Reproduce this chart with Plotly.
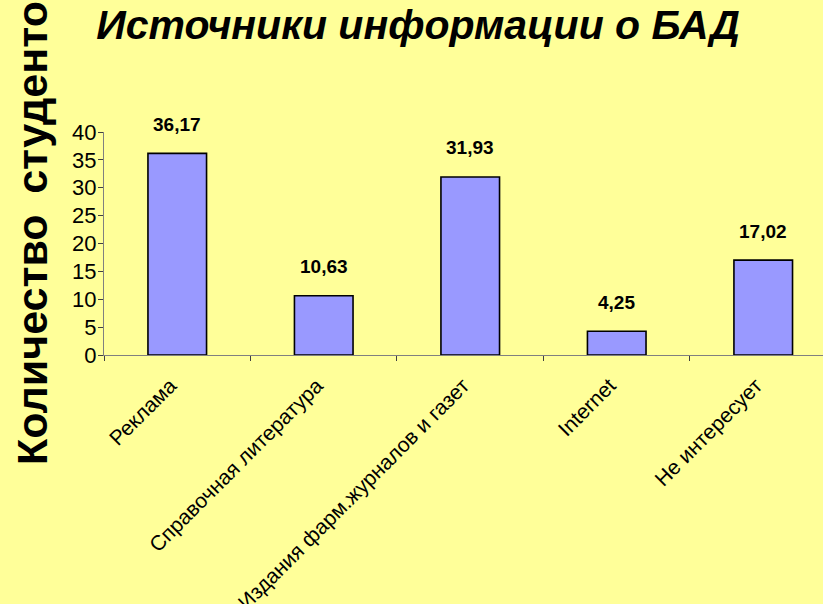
import plotly.graph_objects as go

categories = ["Реклама", "Справочная литература", "Издания фарм.журналов и газет", "Internet", "Не интересует"]
values = [36.17, 10.63, 31.93, 4.25, 17.02]
y_ticks = [0, 5, 10, 15, 20, 25, 30, 35, 40]
title_text = "Источники информации о БАД"
y_title_text = "Количество \u2009студентов"

FONT = "Liberation Sans, Arial, sans-serif"
BG = "#FFFF99"

fig = go.Figure()
fig.add_trace(go.Bar(
    x=categories, y=values, width=0.4,
    marker=dict(color="#9999FF", line=dict(color="black", width=1.6)),
    hoverinfo="skip",
))

# data labels above bars
for c, v in zip(categories, values):
    fig.add_annotation(
        x=c, y=v, xref="x", yref="y",
        text="<b>" + f"{v:.2f}".replace(".", ",") + "</b>",
        showarrow=False, yshift=29, yanchor="middle",
        font=dict(family=FONT, size=19, color="black"),
    )

# y-axis title (rotated, partly outside the page)
fig.add_annotation(
    xref="paper", yref="paper", x=(32 - 104) / 719, y=(355 - 467) / 223,
    xanchor="center", yanchor="bottom", textangle=-90,
    text="<b>" + y_title_text + "</b>", showarrow=False,
    font=dict(family=FONT, size=43, color="black"),
)

fig.update_layout(
    width=823, height=604,
    margin=dict(l=104, r=0, t=132, b=249, autoexpand=False),
    paper_bgcolor=BG, plot_bgcolor=BG,
    showlegend=False,
    font=dict(family=FONT, color="black"),
    title=dict(
        text="<b><i>" + title_text + "</i></b>",
        x=418 / 823, xanchor="center", xref="container",
        y=1 - 25 / 604, yanchor="middle", yref="container",
        font=dict(family=FONT, size=41, color="black"),
    ),
    xaxis=dict(
        type="category", range=[-0.5, 4.408], automargin=False,
        tickson="boundaries", ticks="outside", ticklen=5, tickcolor="#404040",
        showline=True, linecolor="#808080", linewidth=1.2,
        tickangle=-45, tickfont=dict(family=FONT, size=21, color="black"),
        ticklabelstandoff=9, ticklabelshift=-7,
        showgrid=False, zeroline=False,
    ),
    yaxis=dict(
        range=[0, 40], tickvals=y_ticks, ticktext=[str(t) for t in y_ticks],
        automargin=False,
        ticks="outside", ticklen=5, tickcolor="#404040",
        showline=True, linecolor="#808080", linewidth=1.2,
        tickfont=dict(family=FONT, size=22, color="black"),
        ticklabelstandoff=-3,
        showgrid=False, zeroline=False,
    ),
)

fig.write_html("out.html", config={"displayModeBar": False},
               post_script="document.body.style.margin='0';")
